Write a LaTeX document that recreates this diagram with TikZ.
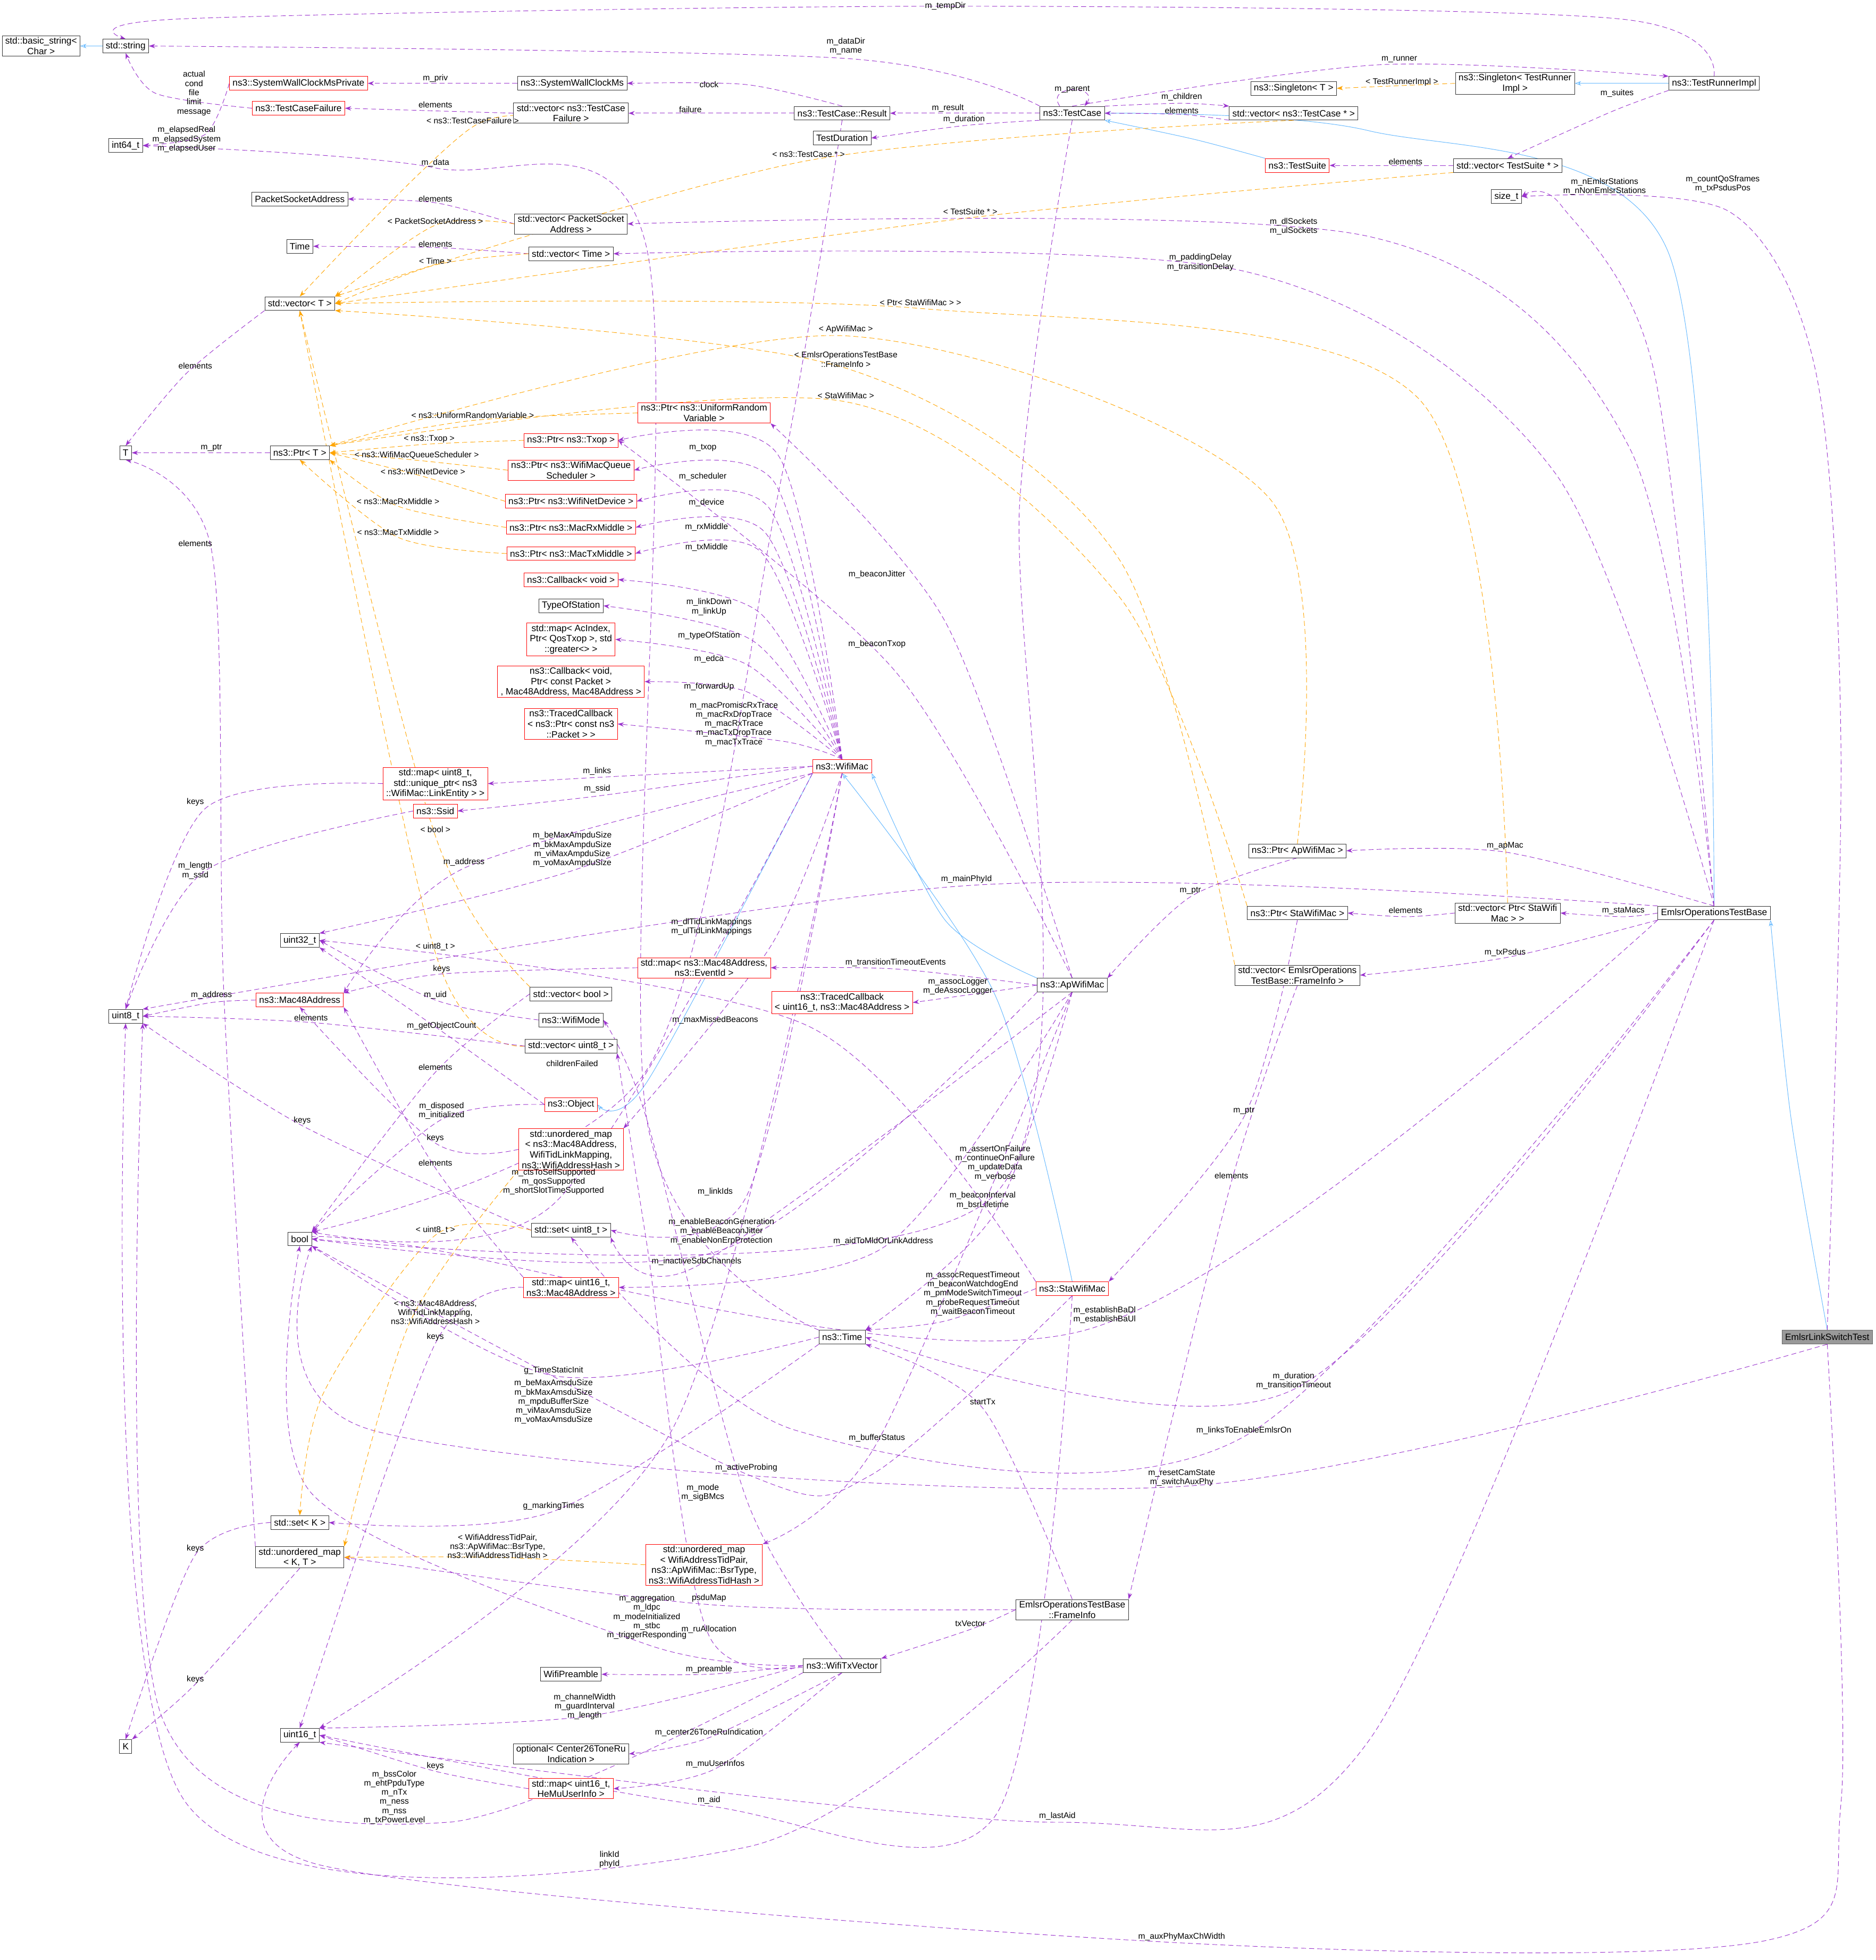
\documentclass[tikz,border=0pt]{standalone}
\usepackage{fontspec}
\setmainfont{Liberation Sans}
\usetikzlibrary{arrows.meta}
\definecolor{memc}{HTML}{9A32CD}
\definecolor{tplc}{HTML}{FFA500}
\definecolor{inhc}{HTML}{63B8FF}
\pgfdeclarelayer{bg}
\pgfsetlayers{bg,main}
\newcommand\myedge[2]{\begin{pgfonlayer}{bg}\draw[#1] plot[smooth] coordinates {#2};\end{pgfonlayer}}
\newcommand\mylab[2]{\node[lbl] at (#1) {#2};}
\begin{document}
\begin{tikzpicture}[x=1mm,y=-1mm,
  font=\fontsize{21}{24}\selectfont,
  bx/.style={draw=black!80,fill=white,line width=0.35mm,align=center,inner xsep=2.5mm,inner ysep=1.2mm,minimum height=11mm},
  rbx/.style={bx,draw=red},
  gbx/.style={bx,fill=black!40,draw=black!60},
  lbl/.style={align=center,inner sep=0.5mm,font=\fontsize{19}{21}\selectfont},
  mem/.style={draw=memc,dashed,dash pattern=on 4mm off 2.5mm,line width=0.4mm,-{Stealth[length=5mm,width=3.5mm]}},
  tpl/.style={draw=tplc,dashed,dash pattern=on 4mm off 2.5mm,line width=0.4mm,-{Stealth[length=5mm,width=3.5mm]}},
  inh/.style={draw=inhc,line width=0.4mm,-{Stealth[length=5mm,width=3.5mm,open]}}]
\begin{pgfonlayer}{bg}
\useasboundingbox[fill=white] (0,0) rectangle (1508,1568);
\end{pgfonlayer}
% nodes
\node[bx] (bstr) at (33,37) {std::basic\_string<\\Char >};
\node[bx] (str) at (101,37) {std::string};
\node[bx] (i64) at (101,117) {int64\_t};
\node[rbx] (swcmp) at (240,67) {ns3::SystemWallClockMsPrivate};
\node[rbx] (tcf) at (240,87) {ns3::TestCaseFailure};
\node[bx] (swcm) at (460,67) {ns3::SystemWallClockMs};
\node[bx] (vtcf) at (459,91) {std::vector< ns3::TestCase\\Failure >};
\node[bx] (res) at (677,91) {ns3::TestCase::Result};
\node[bx] (tdur) at (677,111) {TestDuration};
\node[bx] (tc) at (862,91) {ns3::TestCase};
\node[bx] (vtc) at (1040,91) {std::vector< ns3::TestCase * >};
\node[bx] (sgT) at (1040,71) {ns3::Singleton< T >};
\node[bx] (sgtr) at (1218,67) {ns3::Singleton< TestRunner\\Impl >};
\node[bx] (runner) at (1378,67) {ns3::TestRunnerImpl};
\node[rbx] (tsuite) at (1043,133) {ns3::TestSuite};
\node[bx] (vts) at (1212,133) {std::vector< TestSuite * >};
\node[bx] (sizet) at (1211,158) {size\_t};
\node[bx] (psa) at (241,160) {PacketSocketAddress};
\node[bx] (vpsa) at (459,180) {std::vector< PacketSocket\\Address >};
\node[bx] (time0) at (241,198) {Time};
\node[bx] (vtime) at (459,204) {std::vector< Time >};
\node[bx] (vT) at (241,244) {std::vector< T >};
\node[bx] (T) at (101,364) {T};
\node[bx] (ptrT) at (241,364) {ns3::Ptr< T >};
\node[rbx] (prv) at (566,332) {ns3::Ptr< ns3::UniformRandom\\Variable >};
\node[rbx] (ptxop) at (459,354) {ns3::Ptr< ns3::Txop >};
\node[rbx] (psched) at (459,378) {ns3::Ptr< ns3::WifiMacQueue\\Scheduler >};
\node[rbx] (pdev) at (459,403) {ns3::Ptr< ns3::WifiNetDevice >};
\node[rbx] (prx) at (459,424) {ns3::Ptr< ns3::MacRxMiddle >};
\node[rbx] (ptx) at (459,445) {ns3::Ptr< ns3::MacTxMiddle >};
\node[rbx] (cbv) at (459,466) {ns3::Callback< void >};
\node[bx] (tos) at (459,487) {TypeOfStation};
\node[rbx] (mapac) at (459,514) {std::map< AcIndex,\\Ptr< QosTxop >, std\\::greater<> >};
\node[rbx] (cbfwd) at (459,548) {ns3::Callback< void,\\Ptr< const Packet >\\, Mac48Address, Mac48Address >};
\node[rbx] (trcb) at (459,582) {ns3::TracedCallback\\< ns3::Ptr< const ns3\\::Packet > >};
\node[rbx] (wmac) at (677,616) {ns3::WifiMac};
\node[rbx] (maplinks) at (350,630) {std::map< uint8\_t,\\std::unique\_ptr< ns3\\::WifiMac::LinkEntity > >};
\node[rbx] (ssid) at (350,652) {ns3::Ssid};
\node[bx] (u32) at (241,756) {uint32\_t};
\node[bx] (u8) at (101,817) {uint8\_t};
\node[rbx] (mac48) at (241,804) {ns3::Mac48Address};
\node[rbx] (mapev) at (566,778) {std::map< ns3::Mac48Address,\\ns3::EventId >};
\node[rbx] (tcmac) at (677,806) {ns3::TracedCallback\\< uint16\_t, ns3::Mac48Address >};
\node[bx] (vbool) at (459,799) {std::vector< bool >};
\node[bx] (wmode) at (459,820) {ns3::WifiMode};
\node[bx] (vu8) at (459,841) {std::vector< uint8\_t >};
\node[rbx] (obj) at (459,888) {ns3::Object};
\node[rbx] (umapmac) at (459,924) {std::unordered\_map\\< ns3::Mac48Address,\\WifiTidLinkMapping,\\ns3::WifiAddressHash >};
\node[bx] (set8) at (459,989) {std::set< uint8\_t >};
\node[bx] (bool) at (241,996) {bool};
\node[rbx] (mapu16) at (459,1035) {std::map< uint16\_t,\\ns3::Mac48Address >};
\node[bx] (ntime) at (677,1075) {ns3::Time};
\node[bx] (setK) at (241,1224) {std::set< K >};
\node[bx] (umapKT) at (241,1252) {std::unordered\_map\\< K, T >};
\node[rbx] (umapbsr) at (566,1258) {std::unordered\_map\\< WifiAddressTidPair,\\ns3::ApWifiMac::BsrType,\\ns3::WifiAddressTidHash >};
\node[bx] (fi) at (862,1294) {EmlsrOperationsTestBase\\::FrameInfo};
\node[bx] (wtv) at (677,1339) {ns3::WifiTxVector};
\node[bx] (wpre) at (459,1346) {WifiPreamble};
\node[bx] (K) at (101,1404) {K};
\node[bx] (u16) at (241,1395) {uint16\_t};
\node[bx] (opt) at (459,1410) {optional< Center26ToneRu\\Indication >};
\node[rbx] (mapmu) at (459,1438) {std::map< uint16\_t,\\HeMuUserInfo >};
\node[bx] (apw) at (862,792) {ns3::ApWifiMac};
\node[rbx] (staw) at (862,1036) {ns3::StaWifiMac};
\node[bx] (pam) at (1043,684) {ns3::Ptr< ApWifiMac >};
\node[bx] (psm) at (1043,734) {ns3::Ptr< StaWifiMac >};
\node[bx] (vpsm) at (1212,734) {std::vector< Ptr< StaWifi\\Mac > >};
\node[bx] (vfi) at (1043,784) {std::vector< EmlsrOperations\\TestBase::FrameInfo >};
\node[bx] (emlsr) at (1378,734) {EmlsrOperationsTestBase};
\node[gbx] (lst) at (1469,1075) {EmlsrLinkSwitchTest};
% inheritance
\myedge{inh}{(str.west) (bstr.east)}
\myedge{inh}{(runner.west) (sgtr.east)}
\myedge{inh}{(tsuite.north west) (960,112) (tc.south east)}
\myedge{inh}{(emlsr.north) (1340,200) (1100,105) (tc.east)}
\myedge{inh}{(lst.north) (1440,900) (emlsr.south east)}
\myedge{inh}{(apw.north west) (760,740) (wmac.south east)}
\myedge{inh}{(staw.north) (800,800) (wmac.south)}
\myedge{inh}{(wmac.south west) (520,870) (obj.east)}
% test framework
\myedge{mem}{(runner.north) (1300,15) (760,5) (150,15) (str.north)} \mylab{760,5}{m\_tempDir}
\myedge{mem}{(tc.north west) (680,47) (str.east)} \mylab{680,37}{m\_dataDir\\m\_name}
\myedge{mem}{(tcf.west) (125,75) (str.south)} \mylab{156,75}{actual\\cond\\file\\limit\\message}
\myedge{mem}{(swcmp.west) (165,108) (i64.east)} \mylab{150,112}{m\_elapsedReal\\m\_elapsedSystem\\m\_elapsedUser}
\myedge{mem}{(swcm.west) (swcmp.east)} \mylab{350,63}{m\_priv}
\myedge{mem}{(vtcf.west) (tcf.east)} \mylab{350,84}{elements}
\myedge{mem}{(res.north) (600,68) (swcm.east)} \mylab{570,68}{clock}
\myedge{mem}{(res.west) (vtcf.east)} \mylab{555,88}{failure}
\myedge{mem}{(tc.west) (res.east)} \mylab{762,87}{m\_result}
\myedge{mem}{(tc.south west) (775,101) (tdur.east)} \mylab{775,96}{m\_duration}
\begin{pgfonlayer}{bg}\draw[mem] ([xshift=-10mm]tc.north) .. controls (840,68) and (884,68) .. ([xshift=10mm]tc.north);\end{pgfonlayer} \mylab{862,72}{m\_parent}
\myedge{mem}{(tc.north east) (950,83) (vtc.north west)} \mylab{950,78}{m\_children}
\myedge{mem}{(vtc.south west) (950,92) (tc.east)} \mylab{950,89}{elements}
\myedge{mem}{(tc.north) (1110,52) (runner.north west)} \mylab{1125,48}{m\_runner}
\myedge{tpl}{(sgtr.west) (sgT.east)} \mylab{1127,66}{< TestRunnerImpl >}
\myedge{mem}{(runner.south west) (1295,90) (vts.north)} \mylab{1300,75}{m\_suites}
\myedge{mem}{(vts.west) (tsuite.east)} \mylab{1130,130}{elements}
\myedge{tpl}{(vts.south west) (780,175) (vT.east)} \mylab{780,170}{< TestSuite * >}
\myedge{tpl}{(vtc.south) (650,129) (vT.north east)} \mylab{650,124}{< ns3::TestCase * >}
\myedge{tpl}{(vtcf.south) (380,102) (vT.north)} \mylab{380,97}{< ns3::TestCaseFailure >}
\myedge{mem}{(vpsa.west) (350,163) (psa.east)} \mylab{350,160}{elements}
\myedge{tpl}{(vpsa.west) (350,181) (vT.north east)} \mylab{350,178}{< PacketSocketAddress >}
\myedge{mem}{(vtime.west) (350,199) (time0.east)} \mylab{350,196}{elements}
\myedge{tpl}{(vtime.west) (350,213) (vT.east)} \mylab{350,210}{< Time >}
\myedge{mem}{(vT.south west) (150,300) (T.north)} \mylab{157,294}{elements}
\myedge{mem}{(ptrT.west) (T.east)} \mylab{170,360}{m\_ptr}
\myedge{mem}{(emlsr.north) (1330,300) (1255,165) (sizet.east)} \mylab{1290,150}{m\_nEmlsrStations\\m\_nNonEmlsrStations}
\myedge{mem}{(lst.north) (1480,600) (1460,300) (1390,170) (sizet.east)} \mylab{1385,148}{m\_countQoSframes\\m\_txPsdusPos}
\myedge{mem}{(emlsr.north) (1310,360) (1100,190) (vpsa.east)} \mylab{1040,182}{m\_dlSockets\\m\_ulSockets}
\myedge{mem}{(emlsr.north) (1250,380) (1000,218) (vtime.east)} \mylab{965,211}{m\_paddingDelay\\m\_transitionDelay}
\myedge{tpl}{(vpsm.north) (1140,320) (740,248) (vT.east)} \mylab{740,243}{< Ptr< StaWifiMac > >}
\myedge{tpl}{(pam.north) (1020,400) (680,270) (ptrT.north east)} \mylab{680,265}{< ApWifiMac >}
\myedge{tpl}{(vfi.north west) (900,450) (680,296) (vT.south east)} \mylab{680,289}{< EmlsrOperationsTestBase\\::FrameInfo >}
\myedge{tpl}{(psm.north west) (900,480) (680,323) (ptrT.north east)} \mylab{680,318}{< StaWifiMac >}
\myedge{tpl}{(prv.west) (380,338) (ptrT.north east)} \mylab{380,334}{< ns3::UniformRandomVariable >}
\myedge{tpl}{(ptxop.west) (345,357) (ptrT.east)} \mylab{345,353}{< ns3::Txop >}
\myedge{tpl}{(psched.west) (335,370) (ptrT.east)} \mylab{335,366}{< ns3::WifiMacQueueScheduler >}
\myedge{tpl}{(pdev.west) (340,383) (ptrT.east)} \mylab{340,379}{< ns3::WifiNetDevice >}
\myedge{tpl}{(prx.west) (320,407) (ptrT.south east)} \mylab{320,403}{< ns3::MacRxMiddle >}
\myedge{tpl}{(ptx.west) (320,432) (ptrT.south)} \mylab{320,428}{< ns3::MacTxMiddle >}
% WifiMac
\myedge{mem}{(wmac.north) (625,365) (ptxop.east)} \mylab{565,360}{m\_txop}
\myedge{mem}{(wmac.north) (622,387) (psched.east)} \mylab{565,383}{m\_scheduler}
\myedge{mem}{(wmac.north) (618,408) (pdev.east)} \mylab{568,404}{m\_device}
\myedge{mem}{(wmac.north) (615,428) (prx.east)} \mylab{568,424}{m\_rxMiddle}
\myedge{mem}{(wmac.north) (612,444) (ptx.east)} \mylab{568,440}{m\_txMiddle}
\myedge{mem}{(wmac.north) (610,492) (cbv.east)} \mylab{570,488}{m\_linkDown\\m\_linkUp}
\myedge{mem}{(wmac.north) (605,515) (tos.east)} \mylab{570,511}{m\_typeOfStation}
\myedge{mem}{(wmac.north) (600,534) (mapac.east)} \mylab{570,530}{m\_edca}
\myedge{mem}{(wmac.north) (600,556) (cbfwd.east)} \mylab{570,552}{m\_forwardUp}
\myedge{mem}{(wmac.north) (630,596) (trcb.east)} \mylab{590,582}{m\_macPromiscRxTrace\\m\_macRxDropTrace\\m\_macRxTrace\\m\_macTxDropTrace\\m\_macTxTrace}
\myedge{mem}{(wmac.west) (480,625) (maplinks.east)} \mylab{480,620}{m\_links}
\myedge{mem}{(wmac.west) (480,640) (ssid.east)} \mylab{480,634}{m\_ssid}
\myedge{mem}{(wmac.south west) (460,700) (u32.north east)} \mylab{460,683}{m\_beMaxAmpduSize\\m\_bkMaxAmpduSize\\m\_viMaxAmpduSize\\m\_voMaxAmpduSize}
\myedge{mem}{(wmac.south west) (373,698) (mac48.north east)} \mylab{373,693}{m\_address}
\myedge{tpl}{(vbool.north west) (350,672) (vT.south)} \mylab{350,667}{< bool >}
\myedge{tpl}{(vu8.west) (350,766) (vT.south)} \mylab{350,761}{< uint8\_t >}
\myedge{mem}{(wmac.south) (620,760) (umapmac.north east)} \mylab{572,745}{m\_dlTidLinkMappings\\m\_ulTidLinkMappings}
\myedge{mem}{(wmac.south) (600,962) (set8.east)} \mylab{575,958}{m\_linkIds}
\myedge{mem}{(wmac.south west) (445,968) (bool.north east)} \mylab{445,950}{m\_ctsToSelfSupported\\m\_qosSupported\\m\_shortSlotTimeSupported}
\myedge{mem}{(wmac.south) (540,1150) (u16.north east)} \mylab{445,1127}{m\_beMaxAmsduSize\\m\_bkMaxAmsduSize\\m\_mpduBufferSize\\m\_viMaxAmsduSize\\m\_voMaxAmsduSize}
% ApWifiMac
\myedge{mem}{(apw.north) (760,500) (prv.south east)} \mylab{705,462}{m\_beaconJitter}
\myedge{mem}{(apw.north) (720,540) (ptxop.east)} \mylab{705,518}{m\_beaconTxop}
\myedge{mem}{(apw.west) (720,779) (mapev.east)} \mylab{720,774}{m\_transitionTimeoutEvents}
\myedge{mem}{(apw.west) (770,801) (tcmac.east)} \mylab{770,793}{m\_assocLogger\\m\_deAssocLogger}
\myedge{mem}{(apw.south) (800,975) (ntime.north east)} \mylab{790,965}{m\_beaconInterval\\m\_bsrLifetime}
\myedge{mem}{(apw.south west) (580,1005) (bool.east)} \mylab{580,990}{m\_enableBeaconGeneration\\m\_enableBeaconJitter\\m\_enableNonErpProtection}
\myedge{mem}{(apw.south) (710,1003) (mapu16.east)} \mylab{710,998}{m\_aidToMldOrLinkAddress}
\myedge{mem}{(apw.south) (560,1018) (set8.south east)} \mylab{560,1014}{m\_inactiveSdbChannels}
\myedge{mem}{(apw.south) (705,1160) (umapbsr.north east)} \mylab{705,1156}{m\_bufferStatus}
\myedge{mem}{(pam.south) (957,721) (apw.north east)} \mylab{957,716}{m\_ptr}
\myedge{mem}{(psm.south) (1000,898) (staw.north east)} \mylab{1000,893}{m\_ptr}
% EmlsrOperationsTestBase
\myedge{mem}{(emlsr.north) (1210,685) (pam.east)} \mylab{1210,680}{m\_apMac}
\myedge{mem}{(emlsr.west) (1305,737) (vpsm.east)} \mylab{1305,732}{m\_staMacs}
\myedge{mem}{(vpsm.west) (1130,737) (psm.east)} \mylab{1130,732}{elements}
\myedge{mem}{(emlsr.south west) (1210,770) (vfi.east)} \mylab{1210,766}{m\_txPsdus}
\myedge{mem}{(vfi.south) (990,950) (fi.north east)} \mylab{990,945}{elements}
\myedge{mem}{(emlsr.north west) (777,712) (u8.north east)} \mylab{777,707}{m\_mainPhyId}
\myedge{mem}{(emlsr.south) (1040,1117) (ntime.east)} \mylab{1040,1110}{m\_duration\\m\_transitionTimeout}
\myedge{mem}{(emlsr.south) (1000,1155) (640,1150) (set8.south)} \mylab{1000,1150}{m\_linksToEnableEmlsrOn}
\myedge{mem}{(emlsr.south) (1100,1400) (850,1465) (u16.south east)} \mylab{850,1460}{m\_lastAid}
\myedge{mem}{(emlsr.south west) (870,1070) (320,1000) (bool.east)} \mylab{888,1057}{m\_establishBaDl\\m\_establishBaUl}
\myedge{mem}{(lst.south) (950,1195) (300,1150) (bool.south east)} \mylab{950,1188}{m\_resetCamState\\m\_switchAuxPhy}
\myedge{mem}{(lst.south) (1480,1450) (1420,1560) (950,1562) (260,1500) (u16.south)} \mylab{950,1557}{m\_auxPhyMaxChWidth}
% StaWifiMac
\myedge{mem}{(staw.west) (760,1062) (ntime.north east)} \mylab{782,1040}{m\_assocRequestTimeout\\m\_beaconWatchdogEnd\\m\_pmModeSwitchTimeout\\m\_probeRequestTimeout\\m\_waitBeaconTimeout}
\myedge{mem}{(staw.south) (700,1186) (600,1185) (bool.south east)} \mylab{600,1180}{m\_activeProbing}
\myedge{mem}{(staw.south) (800,1460) (570,1452) (u16.east)} \mylab{570,1447}{m\_aid}
\myedge{mem}{(staw.north west) (650,825) (u32.east)} \mylab{575,820}{m\_maxMissedBeacons}
% FrameInfo
\myedge{mem}{(fi.north) (790,1132) (ntime.south east)} \mylab{790,1127}{startTx}
\myedge{mem}{(fi.west) (780,1310) (wtv.north east)} \mylab{780,1305}{txVector}
\myedge{mem}{(fi.west) (570,1290) (umapKT.east)} \mylab{570,1285}{psduMap}
\myedge{mem}{(fi.south) (600,1485) (150,1450) (u8.south)} \mylab{490,1495}{linkId\\phyId}
% WifiTxVector
\myedge{mem}{(wtv.west) (570,1346) (wpre.east)} \mylab{570,1342}{m\_preamble}
\myedge{mem}{(wtv.west) (470,1380) (u16.north east)} \mylab{470,1372}{m\_channelWidth\\m\_guardInterval\\m\_length}
\myedge{mem}{(wtv.south) (570,1397) (opt.east)} \mylab{570,1393}{m\_center26ToneRuIndication}
\myedge{mem}{(wtv.south) (575,1422) (mapmu.east)} \mylab{575,1418}{m\_muUserInfos}
\myedge{mem}{(wtv.south west) (360,1465) (130,1380) (u8.south east)} \mylab{317,1445}{m\_bssColor\\m\_ehtPpduType\\m\_nTx\\m\_ness\\m\_nss\\m\_txPowerLevel}
\myedge{mem}{(wtv.west) (520,1322) (250,1200) (bool.south)} \mylab{520,1300}{m\_aggregation\\m\_ldpc\\m\_modeInitialized\\m\_stbc\\m\_triggerResponding}
\myedge{mem}{(wtv.north) (570,1315) (520,1000) (vu8.south east)} \mylab{570,1310}{m\_ruAllocation}
\myedge{mem}{(wtv.north) (600,1205) (520,900) (wmode.east)} \mylab{565,1200}{m\_mode\\m\_sigBMcs}
\myedge{mem}{(mapmu.west) (350,1424) (u16.east)} \mylab{350,1420}{keys}
% basic types
\myedge{mem}{(mac48.west) (170,806) (u8.east)} \mylab{170,800}{m\_address}
\myedge{mem}{(vu8.west) (250,822) (u8.east)} \mylab{250,818}{elements}
\myedge{mem}{(wmode.west) (350,804) (u32.east)} \mylab{350,800}{m\_uid}
\myedge{mem}{(obj.west) (355,829) (u32.south east)} \mylab{355,825}{m\_getObjectCount}
\myedge{mem}{(obj.west) (355,900) (bool.north east)} \mylab{355,893}{m\_disposed\\m\_initialized}
\myedge{mem}{(res.south) (625,400) (520,860) (bool.north east)} \mylab{460,855}{childrenFailed}
\myedge{mem}{(vbool.west) (350,862) (bool.north east)} \mylab{350,858}{elements}
\myedge{mem}{(maplinks.west) (165,650) (u8.north)} \mylab{157,645}{keys}
\myedge{mem}{(ssid.west) (165,700) (u8.north)} \mylab{157,700}{m\_length\\m\_ssid}
\myedge{mem}{(set8.west) (243,905) (u8.south east)} \mylab{243,901}{keys}
\myedge{tpl}{(set8.west) (350,993) (260,1120) (setK.north)} \mylab{350,989}{< uint8\_t >}
\myedge{mem}{(umapmac.west) (350,919) (mac48.south)} \mylab{350,915}{keys}
\myedge{tpl}{(umapmac.south west) (330,1062) (umapKT.north east)} \mylab{350,1055}{< ns3::Mac48Address,\\WifiTidLinkMapping,\\ns3::WifiAddressHash >}
\myedge{tpl}{(umapbsr.west) (400,1252) (umapKT.east)} \mylab{400,1243}{< WifiAddressTidPair,\\ns3::ApWifiMac::BsrType,\\ns3::WifiAddressTidHash >}
\myedge{mem}{(mapu16.west) (350,1080) (u16.north)} \mylab{350,1075}{keys}
\myedge{mem}{(mapu16.north west) (350,939) (mac48.south east)} \mylab{350,935}{elements}
\myedge{mem}{(mapev.west) (355,783) (mac48.north east)} \mylab{355,779}{keys}
\myedge{mem}{(ntime.north west) (520,900) (520,200) (350,135) (i64.east)} \mylab{350,131}{m\_data}
\myedge{mem}{(ntime.west) (445,1106) (bool.south east)} \mylab{445,1102}{g\_TimeStaticInit}
\myedge{mem}{(ntime.south west) (445,1215) (setK.east)} \mylab{445,1211}{g\_markingTimes}
\myedge{mem}{(setK.west) (157,1250) (K.north)} \mylab{157,1245}{keys}
\myedge{mem}{(umapKT.south) (157,1354) (K.north east)} \mylab{157,1350}{keys}
\myedge{mem}{(umapKT.north west) (180,800) (170,442) (T.south)} \mylab{157,437}{elements}
\myedge{mem}{(tc.south) (820,400) (800,960) (bool.east)} \mylab{800,935}{m\_assertOnFailure\\m\_continueOnFailure\\m\_updateData\\m\_verbose}
\end{tikzpicture}
\end{document}
